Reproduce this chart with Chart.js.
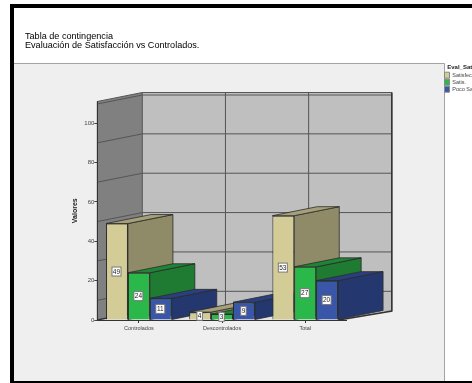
<!DOCTYPE html>
<html><head><meta charset="utf-8">
<style>html,body{margin:0;padding:0;background:#fff;overflow:hidden;width:472px;height:383px}
#wrap{position:relative;width:640px;height:383px}canvas{display:block;filter:blur(0.4px)}</style>
<script src="https://cdn.jsdelivr.net/npm/chart.js@4/dist/chart.umd.min.js"></script>
</head><body><div id="wrap"><canvas id="c" width="640" height="383"></canvas></div>
<script>
const categories = ['Controlados','Descontrolados','Total'];
const satisfecho = [49,4,53];
const satis = [24,3,27];
const pocoSatisfecho = [11,9,20];
const seriesNames = ['Satisfecho','Satis.','Poco Satisfecho'];
const wallGridValues = [10,30,50,70,90];
const legendTitle = 'Eval_Satisfacción';
const titleLines = ['Tabla de contingencia','Evaluación de Satisfacción vs Controlados.'];

const DX = 45, DY = -9;
const sideColors = ['#8f8b68','#1f7a32','#25376f'];
const topColors = ['#a5a07a','#1f8536','#2a3f80'];
const EDGE = '#2b2b2b';

function poly(ctx, pts, fill, stroke, lw){
  ctx.beginPath();
  pts.forEach((p,i)=> i?ctx.lineTo(p[0],p[1]):ctx.moveTo(p[0],p[1]));
  ctx.closePath();
  if(fill){ctx.fillStyle=fill;ctx.fill();}
  if(stroke){ctx.strokeStyle=stroke;ctx.lineWidth=lw||1;ctx.stroke();}
}
const scene = {
  id:'scene',
  beforeDraw(chart){
    const ctx=chart.ctx, a=chart.chartArea, y=chart.scales.y;
    chart.titleBlock.left=25; chart.titleBlock.right=430; chart.titleBlock.top=1.5; chart.titleBlock.bottom=52;
    const lg=chart.legend, w=lg.width, h=lg.height;
    lg.left=443.5; lg.right=443.5+w; lg.top=64; lg.bottom=64+h; lg.adjustHitBoxes();
    ctx.save();
    ctx.fillStyle='#fff';ctx.fillRect(0,0,640,383);
    ctx.fillStyle='#efefef';ctx.fillRect(14,63,430,318);
    ctx.strokeStyle='#a3a3a3';ctx.lineWidth=1;
    ctx.beginPath();ctx.moveTo(14,63.5);ctx.lineTo(444.5,63.5);ctx.lineTo(444.5,381);ctx.stroke();
    ctx.fillStyle='#000';
    ctx.fillRect(10,4,630,4);ctx.fillRect(10,4,4,379);ctx.fillRect(10,381,630,2);
    const t=a.top,b=a.bottom,l=a.left,r=a.right;
    poly(ctx,[[l+DX,t+DY],[r+DX,t+DY],[r+DX,b+DY],[l+DX,b+DY]],'#bfbfbf');
    poly(ctx,[[l,t],[l+DX,t+DY],[l+DX,b+DY],[l,b]],'#808080');
    poly(ctx,[[l,b],[r,b],[r+DX,b+DY],[l+DX,b+DY]],'#e4e4e4');
    ctx.strokeStyle='#555';ctx.lineWidth=1;
    ctx.beginPath();
    wallGridValues.forEach(v=>{const p=y.getPixelForValue(v);
      ctx.moveTo(l,p);ctx.lineTo(l+DX,p+DY);ctx.lineTo(r+DX,p+DY);});
    const cw=(r-l)/categories.length;
    for(let i=0;i<=categories.length;i++){ctx.moveTo(l+DX+cw*i,t+DY);ctx.lineTo(l+DX+cw*i,b+DY);}
    ctx.moveTo(l,t+2.5);ctx.lineTo(l+DX,t+DY+2.5);ctx.lineTo(r+DX,t+DY+2.5);
    ctx.moveTo(l,t);ctx.lineTo(l+DX,t+DY);ctx.lineTo(r+DX,t+DY);
    ctx.moveTo(l,t);ctx.lineTo(l,b);
    ctx.stroke();
    ctx.strokeStyle='#333';ctx.lineWidth=1.5;
    ctx.beginPath();ctx.moveTo(r-8,b);ctx.lineTo(r+DX,b+DY);ctx.lineTo(r+DX,t+DY);ctx.stroke();
    ctx.beginPath();ctx.moveTo(l,b);ctx.lineTo(l+DX,b+DY);ctx.stroke();
    ctx.restore();
  },
  beforeDatasetsDraw(chart){
    const ctx=chart.ctx;ctx.save();ctx.lineJoin='round';
    categories.forEach((_,i)=>{
      chart.data.datasets.forEach((ds,d)=>{
        const e=chart.getDatasetMeta(d).data[i];
        const x0=e.x-e.width/2,x1=e.x+e.width/2,yy=e.y,b=e.base;
        poly(ctx,[[x1,yy],[x1+DX,yy+DY],[x1+DX,b+DY],[x1,b]],sideColors[d],EDGE,0.8);
        poly(ctx,[[x0,yy],[x1,yy],[x1+DX,yy+DY],[x0+DX,yy+DY]],topColors[d],EDGE,0.8);
      });
    });
    ctx.restore();
  },
  afterDatasetsDraw(chart){
    const ctx=chart.ctx;ctx.save();
    ctx.font='6.5px "Liberation Sans"';ctx.textAlign='center';ctx.textBaseline='middle';
    chart.data.datasets.forEach((ds,d)=>{
      chart.getDatasetMeta(d).data.forEach((e,i)=>{
        const s=String(ds.data[i]),cx=e.x-0.5,cy=(e.y+e.base)/2;
        const w=s.length>1?9:5.5,h=9;
        ctx.fillStyle='#fff';ctx.strokeStyle='#777';ctx.lineWidth=1;
        ctx.fillRect(cx-w/2,cy-h/2,w,h);ctx.strokeRect(cx-w/2,cy-h/2,w,h);
        ctx.fillStyle='#222';ctx.fillText(s,cx,cy+0.5);
      });
    });
    ctx.restore();
  }
};
new Chart(document.getElementById('c'),{
  type:'bar',
  data:{labels:categories,datasets:[
    {label:seriesNames[0],data:satisfecho,backgroundColor:'#d3cc96'},
    {label:seriesNames[1],data:satis,backgroundColor:'#2bb84a'},
    {label:seriesNames[2],data:pocoSatisfecho,backgroundColor:'#3a56a8'}
  ].map(d=>Object.assign(d,{borderColor:EDGE,borderWidth:1,categoryPercentage:0.79,barPercentage:1}))},
  plugins:[scene],
  options:{
    responsive:false,animation:false,
    layout:{padding:{left:71,right:640-346.3-80+21,top:0,bottom:0}},
    plugins:{
      tooltip:{enabled:false},
      title:{display:true,text:titleLines,align:'start',color:'#000',
        font:{family:'"Liberation Sans"',size:9.1,weight:'normal',lineHeight:1.05},
        padding:{top:30,bottom:101.5-30-19.1}},
      legend:{display:true,position:'right',align:'start',
        title:{display:true,text:legendTitle,color:'#222',padding:0,
          font:{family:'"Liberation Sans"',size:6,weight:'bold'}},
        labels:{boxWidth:5,boxHeight:6,padding:1,color:'#444',
          font:{family:'"Liberation Sans"',size:5.5},
          generateLabels(chart){
            return Chart.defaults.plugins.legend.labels.generateLabels(chart)
              .map(l=>Object.assign(l,{strokeStyle:'#888',lineWidth:1}));
          }}}
    },
    scales:{
      x:{grid:{offset:false,drawOnChartArea:false,tickLength:3,color:'#333'},
        border:{color:'#333',width:1},
        ticks:{color:'#444',padding:2,maxRotation:0,font:{family:'"Liberation Sans"',size:5.5}},
        afterFit(s){s.height=63;}},
      y:{min:0,max:111,
        grid:{drawOnChartArea:false,tickLength:3,color:'#444'},
        border:{color:'#333',width:1},
        title:{display:true,text:'Valores',color:'#222',padding:0,
          font:{family:'"Liberation Sans"',size:7,weight:'bold'}},
        ticks:{stepSize:20,includeBounds:false,color:'#444',padding:0,font:{family:'"Liberation Sans"',size:6}},
        afterFit(s){s.width=26.3;}}
    }
  }
});
</script></body></html>
